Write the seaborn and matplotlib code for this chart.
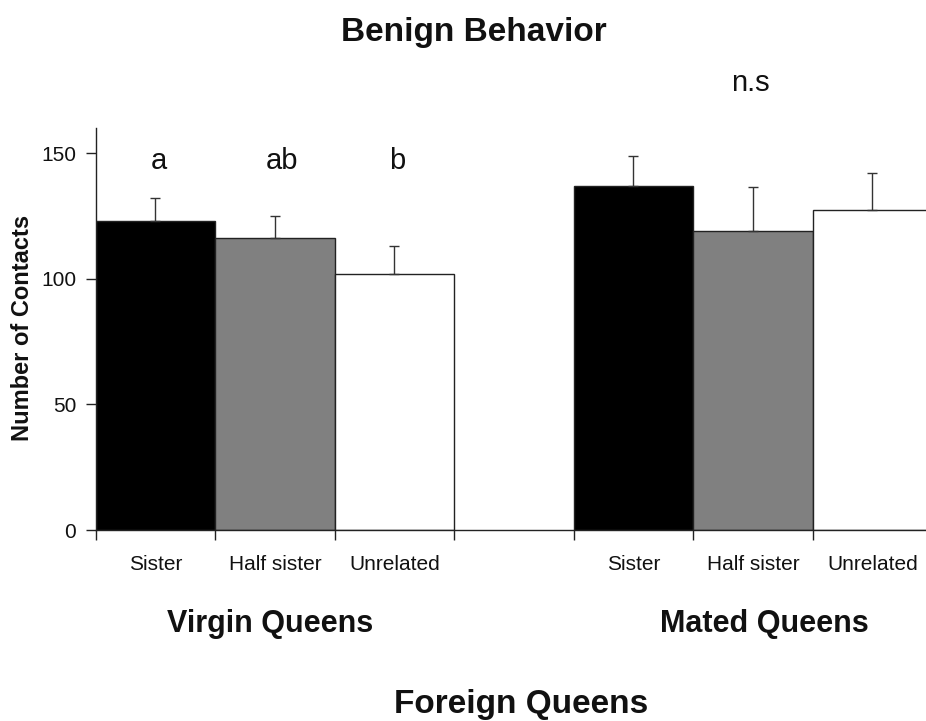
import matplotlib
matplotlib.use("Agg")
import matplotlib.pyplot as plt
from matplotlib.ticker import FixedLocator, NullFormatter
import seaborn as sns
import pandas as pd

# Mean number of contacts (with upper standard error) per queen group and relatedness
groups = ["Virgin Queens", "Virgin Queens", "Virgin Queens",
          "Mated Queens", "Mated Queens", "Mated Queens"]
relatedness = ["Sister", "Half sister", "Unrelated",
               "Sister", "Half sister", "Unrelated"]
slots = [0, 1, 2, 4, 5, 6]
means = [123.1, 116.2, 101.8, 136.9, 119.0, 127.3]
errors = [9.3, 8.7, 11.4, 11.9, 17.8, 14.8]

tick_labels = ["Sister", "Half sister", "Unrelated", "",
               "Sister", "Half sister", "Unrelated"]
letters = ["a", "ab", "b"]
letter_x = [0.03, 1.06, 2.02]

df = pd.DataFrame({"slot": slots, "group": groups,
                   "relatedness": relatedness, "mean": means, "se": errors})

sns.set_theme(style="white")
plt.rcParams["font.family"] = ["Liberation Sans", "DejaVu Sans"]

fig = plt.figure(figsize=(9.26, 7.21), dpi=100)
ax = fig.add_axes([0.1033, 0.2649, 0.9033, 0.5571])

palette = {"Sister": "#000000", "Half sister": "#808080", "Unrelated": "#ffffff"}
sns.barplot(data=df, x="slot", y="mean", hue="relatedness", palette=palette,
            native_scale=True, width=1.0, dodge=False, errorbar=None,
            edgecolor="#222222", linewidth=1.0, legend=False, ax=ax)

# upper-only error bars
ax.errorbar(df["slot"], df["mean"], yerr=[[0] * len(df), df["se"]],
            fmt="none", ecolor="#333333", elinewidth=1.0, capsize=3.6,
            capthick=1.0, zorder=3)

ax.set_xlim(-0.5, 6.5)
ax.set_ylim(0, 160)
ax.set_yticks([0, 50, 100, 150])

# ticks between categories, labels centred under bars
ax.xaxis.set_major_locator(FixedLocator([-0.5, 0.5, 1.5, 2.5, 3.5, 4.5, 5.5, 6.5]))
ax.xaxis.set_major_formatter(NullFormatter())
ax.xaxis.set_minor_locator(FixedLocator(list(range(7))))
ax.set_xticklabels(tick_labels, minor=True)
ax.tick_params(axis="x", which="major", bottom=True, length=7, width=1,
               color="#222222", direction="out")
ax.tick_params(axis="x", which="minor", bottom=True, length=0, pad=18,
               labelsize=15, labelcolor="#111111")
ax.tick_params(axis="y", left=True, length=7, width=1, color="#222222",
               direction="out", pad=7, labelsize=15, labelcolor="#111111")

ax.set_xlabel("")
ax.set_ylabel("")
for side in ("top", "right"):
    ax.spines[side].set_visible(False)
for side in ("left", "bottom"):
    ax.spines[side].set_color("#222222")
    ax.spines[side].set_linewidth(1.0)

for lx, txt in zip(letter_x, letters):
    ax.text(lx, 143.7, txt, ha="center", va="baseline", fontsize=21,
            color="#111111")
ax.text(4.98, 174.9, "n.s", ha="center", va="baseline", fontsize=21,
        color="#111111", clip_on=False)

fig.text(0.512, 0.9436, "Benign Behavior", ha="center", va="baseline",
         fontsize=24, fontweight="bold", color="#111111")
fig.text(0.2916, 0.1239, "Virgin Queens", ha="center", va="baseline",
         fontsize=22, fontweight="bold", color="#111111")
fig.text(0.825, 0.1239, "Mated Queens", ha="center", va="baseline",
         fontsize=22, fontweight="bold", color="#111111")
fig.text(0.5626, 0.0110, "Foreign Queens", ha="center", va="baseline",
         fontsize=24, fontweight="bold", color="#111111")
fig.text(0.0238, 0.545, "Number of Contacts", ha="center", va="center",
         rotation=90, fontsize=17, fontweight="bold", color="#111111")

fig.savefig("out.png", dpi=100, facecolor="white")
